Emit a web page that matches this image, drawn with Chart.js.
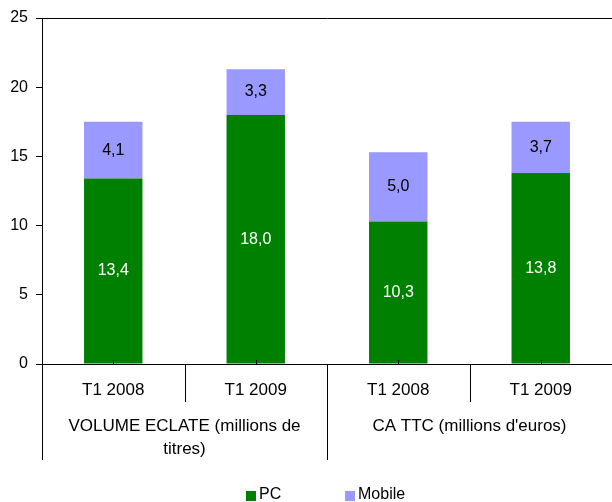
<!DOCTYPE html>
<html>
<head>
<meta charset="utf-8">
<script src="https://cdn.jsdelivr.net/npm/chart.js@4"></script>
<style>
  html, body { margin: 0; padding: 0; background: #fff; }
  #wrap { width: 612px; height: 502px; }
</style>
</head>
<body>
<div id="wrap"><canvas id="chart" width="612" height="502"></canvas></div>
<script>
const categories = ['T1 2008', 'T1 2009', 'T1 2008', 'T1 2009'];
const groupLabels = [['VOLUME ECLATE (millions de', 'titres)'], ['CA TTC (millions d\'euros)']];
const pcValues = [13.4, 18.0, 10.3, 13.8];
const mobileValues = [4.1, 3.3, 5.0, 3.7];
const seriesNames = ['PC', 'Mobile'];
const seriesColors = ['#008000', '#9999FF'];
const labelColors = ['#ffffff', '#000000'];
const yTicks = [0, 5, 10, 15, 20, 25];

const FONT = '"Liberation Sans", Arial, sans-serif';

// valeurs, axes de groupe et legende dessines a la main
const extrasPlugin = {
    id: 'extras',
    afterDatasetsDraw(chart) {
        const ctx = chart.ctx;
        const x = chart.scales.x;
        const area = chart.chartArea;
        ctx.save();
        ctx.font = '16px ' + FONT;
        ctx.textAlign = 'center';
        ctx.textBaseline = 'middle';
        chart.data.datasets.forEach((ds, di) => {
            const meta = chart.getDatasetMeta(di);
            meta.data.forEach((bar, i) => {
                const mid = (bar.y + bar.base) / 2;
                ctx.fillStyle = labelColors[di];
                ctx.fillText(ds.data[i].toFixed(1).replace('.', ','), bar.x, mid);
            });
        });

        // petites graduations au centre des barres
        ctx.strokeStyle = '#000';
        ctx.lineWidth = 1;
        ctx.beginPath();
        categories.forEach((c, i) => {
            const px = Math.round(x.getPixelForValue(i)) + 0.5;
            ctx.moveTo(px, area.bottom);
            ctx.lineTo(px, area.bottom - 4);
        });
        ctx.stroke();
        ctx.restore();
    },
    afterDraw(chart) {
        const ctx = chart.ctx;
        const x = chart.scales.x;
        const area = chart.chartArea;
        const bottom = area.bottom;
        ctx.save();
        ctx.strokeStyle = '#000';
        ctx.lineWidth = 1;
        ctx.beginPath();
        // axe vertical prolonge
        const lx = Math.round(area.left) + 0.5;
        ctx.moveTo(lx, bottom);
        ctx.lineTo(lx, bottom + 96);
        for (let i = 0; i < categories.length - 1; i++) {
            const px = Math.round((x.getPixelForValue(i) + x.getPixelForValue(i + 1)) / 2) + 0.5;
            const len = (i === 1) ? 96 : 38;
            ctx.moveTo(px, bottom);
            ctx.lineTo(px, bottom + len);
        }
        ctx.stroke();

        ctx.fillStyle = '#000';
        ctx.font = '17px ' + FONT;
        ctx.textAlign = 'center';
        ctx.textBaseline = 'middle';
        const sep = (x.getPixelForValue(1) + x.getPixelForValue(2)) / 2;
        const centers = [(area.left + sep) / 2, (sep + area.right) / 2];
        groupLabels.forEach((lines, g) => {
            lines.forEach((line, k) => {
                ctx.fillText(line, centers[g], bottom + 62 + k * 23);
            });
        });

        // legende
        const legendX = [246, 345];
        const legendY = 495;
        ctx.font = '16px ' + FONT;
        ctx.textAlign = 'left';
        seriesNames.forEach((name, i) => {
            ctx.fillStyle = seriesColors[i];
            ctx.fillRect(legendX[i], legendY - 4, 10, 10);
            ctx.fillStyle = '#000';
            ctx.fillText(name, legendX[i] + 13, legendY);
        });
        ctx.restore();
    }
};

new Chart(document.getElementById('chart'), {
    type: 'bar',
    data: {
        labels: categories,
        datasets: [
            { label: seriesNames[0], data: pcValues, backgroundColor: seriesColors[0] },
            { label: seriesNames[1], data: mobileValues, backgroundColor: seriesColors[1] }
        ]
    },
    options: {
        responsive: false,
        animation: false,
        events: [],
        layout: { padding: { top: 18, right: 0, left: 0, bottom: 0 } },
        datasets: {
            bar: { barPercentage: 0.41, categoryPercentage: 1.0, borderWidth: 0 }
        },
        plugins: {
            legend: { display: false },
            tooltip: { enabled: false }
        },
        scales: {
            x: {
                stacked: true,
                grid: { display: false, drawTicks: false },
                border: { display: true, color: '#000', width: 1 },
                ticks: { color: '#000', font: { family: FONT, size: 17 }, padding: 16, maxRotation: 0 },
                afterFit: (scale) => { scale.height = 138; }
            },
            y: {
                stacked: true,
                min: 0,
                max: 25,
                afterBuildTicks: (scale) => { scale.ticks = yTicks.map(v => ({ value: v })); },
                grid: {
                    color: (c) => (c.tick && c.tick.value === 25) ? '#000' : 'rgba(0,0,0,0)',
                    tickColor: '#000',
                    tickLength: 6,
                    drawTicks: true
                },
                border: { display: true, color: '#000', width: 1 },
                ticks: { color: '#000', font: { family: FONT, size: 16 }, padding: 8 },
                afterFit: (scale) => { scale.width = 42; }
            }
        }
    },
    plugins: [extrasPlugin]
});
</script>
</body>
</html>
